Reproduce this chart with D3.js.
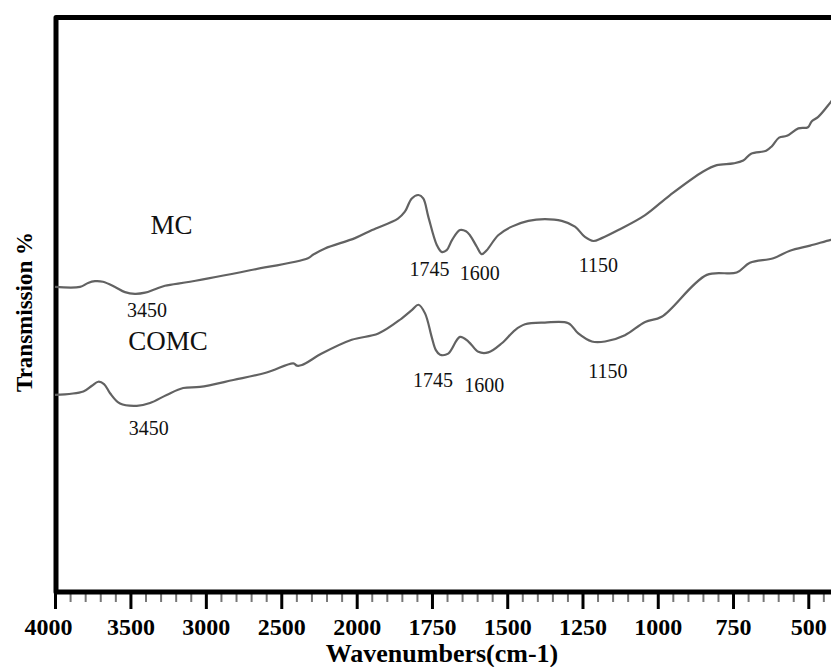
<!DOCTYPE html>
<html>
<head>
<meta charset="utf-8">
<script src="https://cdn.jsdelivr.net/npm/d3@7"></script>
<style>
  body { margin: 0; background: #fff; }
  svg { display: block; }
</style>
</head>
<body>
<svg id="chart" width="831" height="667"></svg>
<script>
// ---- Axis ticks (wavenumber, cm-1) ----
const majorTicks = [4000, 3500, 3000, 2500, 2000, 1750, 1500, 1250, 1000, 750, 500];
const tickLabels = ["4000", "3500", "3000", "2500", "2000", "1750", "1500", "1250", "1000", "750", "500"];

// ---- MC spectrum ----
const mcWavenumber = [4000, 3834, 3781, 3735, 3682, 3602, 3536, 3470, 3403, 3337, 3271, 3105, 2707, 2323, 2290, 2210,
  2011, 1949, 1863, 1840, 1817, 1795, 1779, 1762, 1734, 1718, 1701, 1683, 1657, 1637, 1624, 1601, 1585, 1568, 1530,
  1485, 1430, 1375, 1319, 1275, 1242, 1214, 1186, 1131, 1042, 959, 849, 804, 749, 716, 690, 640, 621, 597, 571, 533,
  501, 489, 467, 425, 400];
const mcTransmission = [53.1, 53.1, 53.8, 54.1, 54.0, 53.1, 52.2, 51.9, 52.1, 52.7, 53.3, 54.0, 56.0, 58.1, 58.7, 59.8,
  61.6, 63.0, 65.0, 66.2, 68.5, 69.1, 68.5, 65.3, 60.4, 59.2, 59.5, 61.3, 63.0, 62.8, 62.1, 60.1, 58.8, 59.5, 62.1,
  63.6, 64.6, 64.9, 64.6, 63.6, 61.8, 61.1, 61.6, 63.0, 65.6, 69.1, 73.2, 74.3, 74.6, 75.1, 76.3, 76.8, 77.6, 79.1, 79.4, 80.7,
  80.9, 81.9, 82.7, 85.3, 86.9];

// ---- COMC spectrum ----
const comcWavenumber = [4000, 3812, 3755, 3713, 3675, 3635, 3569, 3458, 3370, 3260, 3150, 3039, 2818, 2597, 2420, 2396,
  2363, 2232, 2033, 1928, 1851, 1816, 1795, 1773, 1751, 1737, 1723, 1696, 1657, 1629, 1596, 1563, 1518, 1474, 1441,
  1375, 1297, 1264, 1219, 1175, 1109, 1042, 987, 837, 738, 694, 616, 561, 494, 425, 400];
const comcTransmission = [34.3, 34.9, 35.9, 36.6, 36.2, 34.6, 32.8, 32.4, 32.9, 34.3, 35.5, 35.7, 36.9, 38.2, 39.8, 39.4,
  39.5, 41.5, 43.9, 45.0, 47.6, 49.1, 50.0, 48.5, 44.4, 42.1, 41.3, 41.5, 44.4, 43.6, 41.8, 41.7, 43.3, 45.6, 46.6,
  46.9, 46.8, 45.0, 43.6, 43.6, 44.7, 47.0, 47.9, 55.2, 55.6, 57.3, 58.1, 59.4, 60.3, 61.3, 61.6];

// ---- Series names and marked absorption bands ----
const seriesNames = ["MC", "COMC"];
const mcBands = [3450, 1745, 1600, 1150];
const comcBands = [3450, 1745, 1600, 1150];

// ---- Layout ----
const svg = d3.select("#chart");
const FONT = "'Liberation Serif', 'Times New Roman', serif";
const plot = { left: 56, top: 17.5, bottom: 592, right: 850 };

// Wavenumber axis is compressed above 2000 cm-1 (two linear segments)
const x = d3.scaleLinear().domain([4000, 2000, 400]).range([55, 356.7, 838.4]);
const y = d3.scaleLinear().domain([0, 100]).range([plot.bottom, plot.top]);

const minorTicks = d3.range(3900, 2000, -100).filter(v => v % 500 !== 0)
  .concat(d3.range(1950, 400, -50).filter(v => v % 250 !== 0));

// minor ticks
svg.append("g")
  .attr("transform", `translate(0,${plot.bottom})`)
  .call(d3.axisBottom(x).tickValues(minorTicks).tickSize(10).tickFormat(""))
  .call(g => g.select(".domain").remove())
  .call(g => g.selectAll("line").attr("stroke", "#777").attr("stroke-width", 2));

// major ticks + labels
svg.append("g")
  .attr("transform", `translate(0,${plot.bottom})`)
  .call(d3.axisBottom(x).tickValues(majorTicks).tickSize(17).tickPadding(9)
    .tickFormat((d, i) => tickLabels[i]))
  .call(g => g.select(".domain").remove())
  .call(g => g.selectAll("line").attr("stroke", "#000").attr("stroke-width", 3))
  .call(g => g.selectAll("text")
    .attr("font-family", FONT).attr("font-size", 24).attr("font-weight", "bold").attr("fill", "#000")
    .attr("dx", d => d === 4000 ? -7 : 0));

// frame: left, top and bottom rules
svg.append("path")
  .attr("d", `M${plot.right},${plot.top} H${plot.left} V${plot.bottom} H${plot.right}`)
  .attr("fill", "none").attr("stroke", "#000").attr("stroke-width", 5)
  .attr("stroke-linejoin", "round");

// spectra
const line = d3.line()
  .x(d => x(d[0]))
  .y(d => y(d[1]))
  .curve(d3.curveCatmullRom.alpha(0.5));

const series = [
  { name: seriesNames[0], w: mcWavenumber, t: mcTransmission, bands: mcBands },
  { name: seriesNames[1], w: comcWavenumber, t: comcTransmission, bands: comcBands }
];

series.forEach(s => {
  s.points = s.w.map((w, i) => [w, s.t[i]]);
  svg.append("path")
    .datum(s.points)
    .attr("d", line)
    .attr("fill", "none")
    .attr("stroke", "#626262")
    .attr("stroke-width", 2.2)
    .attr("stroke-linejoin", "round");
});

// band annotations sit below the lowest point of each band
const bandOffset = {
  MC:   { 3450: [12, 23], 1745: [-12, 24], 1600: [-2, 26], 1150: [5, 31] },
  COMC: { 3450: [12, 29], 1745: [-7, 32], 1600: [-4, 39.6], 1150: [16, 36] }
};
series.forEach(s => {
  s.bands.forEach(b => {
    const near = s.points.filter(p => Math.abs(p[0] - b) <= 90);
    const low = d3.least(near, (a, c) => a[1] - c[1]);
    const [dx, dy] = bandOffset[s.name][b];
    svg.append("text")
      .attr("x", x(low[0]) + dx)
      .attr("y", y(low[1]) + dy)
      .attr("text-anchor", "middle")
      .attr("font-family", FONT).attr("font-size", 20).attr("fill", "#111")
      .text(b);
  });
});

// series names
const namePos = { MC: [171.5, 233.5], COMC: [168, 350] };
series.forEach(s => {
  svg.append("text")
    .attr("x", namePos[s.name][0]).attr("y", namePos[s.name][1])
    .attr("text-anchor", "middle")
    .attr("font-family", FONT).attr("font-size", 27).attr("fill", "#111")
    .text(s.name);
});

// axis titles
svg.append("text")
  .attr("x", 442).attr("y", 662)
  .attr("text-anchor", "middle")
  .attr("font-family", FONT).attr("font-size", 26).attr("font-weight", "bold")
  .text("Wavenumbers(cm-1)");

svg.append("text")
  .attr("transform", "translate(32,312) rotate(-90)")
  .attr("text-anchor", "middle")
  .attr("font-family", FONT).attr("font-size", 23).attr("font-weight", "bold")
  .text("Transmission %");
</script>
</body>
</html>
